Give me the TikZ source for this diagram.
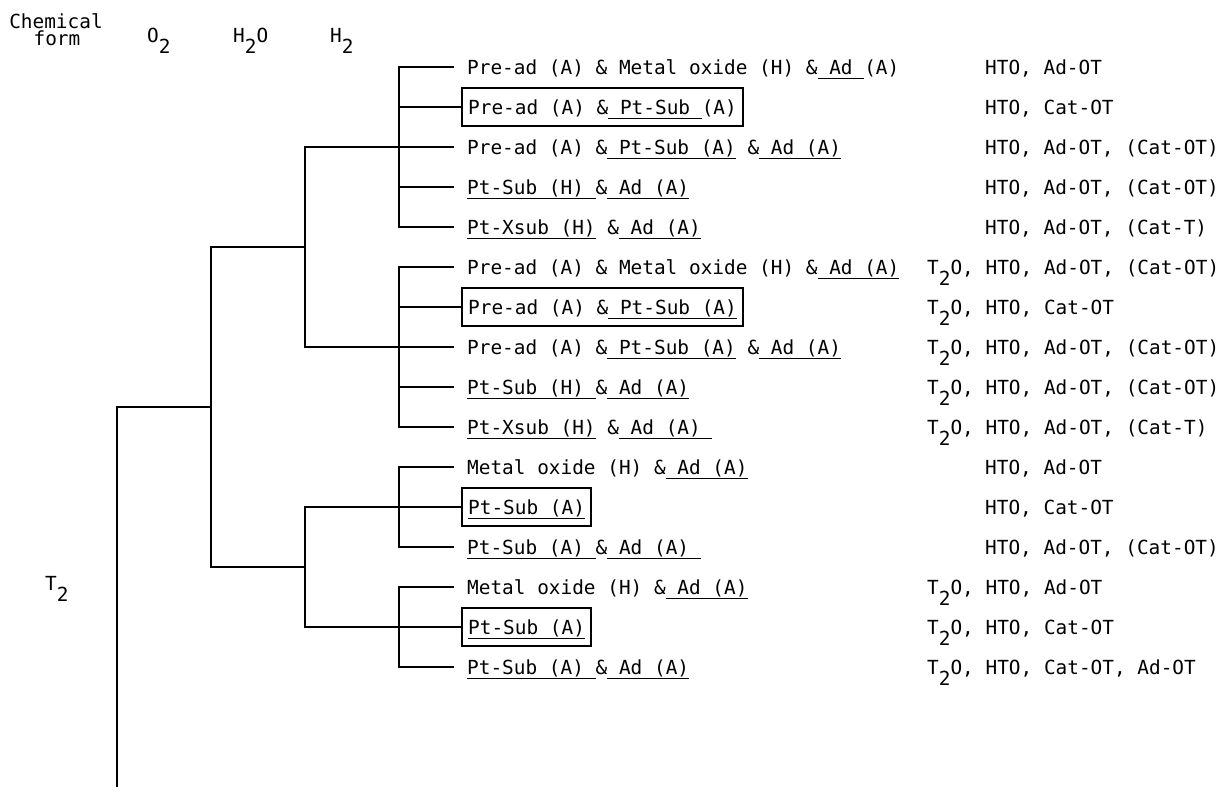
\documentclass[tikz,border=0pt]{standalone}
\usepackage{fontspec}
\newfontfamily\plotfont{DejaVu Sans Mono}
\usetikzlibrary{calc}

\newsavebox\ulbox
\newcommand{\undl}[1]{\sbox\ulbox{#1}\rlap{\rule[-5pt]{\wd\ulbox}{1.4pt}}\usebox\ulbox}
\newcommand{\low}[1]{\raisebox{-0.6em}{#1}}

\tikzset{
  branch/.style={line width=1.6pt, line cap=rect},
  form/.style={anchor=west, inner xsep=6pt, inner ysep=9pt, text height=17pt, text depth=3pt},
  boxed/.style={form, draw, line width=2.4pt},
  prod/.style={anchor=west, inner sep=0pt, text height=17pt, text depth=3pt},
  chem/.style={anchor=base west, inner sep=0pt},
}

\begin{document}
\begin{tikzpicture}[x=1pt, y=-1pt, font={\plotfont\fontsize{19.4}{16}\selectfont}]
            \useasboundingbox (0,0) rectangle (1221,787);

            % Header
            \node[anchor=base, inner sep=0pt] (head) at (56,28) {Chemical};
            \node[anchor=base, inner sep=0pt] (head2) at (57,45) {form};
            \node[chem] (o2) at (147,42) {O\low{2}};
            \node[chem] (h2o) at (233,42) {H\low{2}O};
            \node[chem] (h2) at (330,42) {H\low{2}};
            \node[chem] (t2) at (45,590) {T\low{2}};

            % Forms after H2
            \node[form] (f1) at (461,67) {Pre-ad (A) \& Metal oxide (H) \&\undl{ Ad }(A)};
            \node[boxed] (f2) at (461,107) {Pre-ad (A) \&\undl{ Pt-Sub }(A)};
            \node[form] (f3) at (461,147) {Pre-ad (A) \&\undl{ Pt-Sub (A)} \&\undl{ Ad (A)}};
            \node[form] (f4) at (461,187) {\undl{Pt-Sub (H) }\&\undl{ Ad (A)}};
            \node[form] (f5) at (461,227) {\undl{Pt-Xsub (H)} \&\undl{ Ad (A)}};
            \node[form] (f6) at (461,267) {Pre-ad (A) \& Metal oxide (H) \&\undl{ Ad (A)}};
            \node[boxed] (f7) at (461,307) {Pre-ad (A) \&\undl{ Pt-Sub (A)}};
            \node[form] (f8) at (461,347) {Pre-ad (A) \&\undl{ Pt-Sub (A)} \&\undl{ Ad (A)}};
            \node[form] (f9) at (461,387) {\undl{Pt-Sub (H) }\&\undl{ Ad (A)}};
            \node[form] (f10) at (461,427) {\undl{Pt-Xsub (H)} \&\undl{ Ad (A) }};
            \node[form] (f11) at (461,467) {Metal oxide (H) \&\undl{ Ad (A)}};
            \node[boxed] (f12) at (461,507) {\undl{Pt-Sub (A)}};
            \node[form] (f13) at (461,547) {\undl{Pt-Sub (A) }\&\undl{ Ad (A) }};
            \node[form] (f14) at (461,587) {Metal oxide (H) \&\undl{ Ad (A)}};
            \node[boxed] (f15) at (461,627) {\undl{Pt-Sub (A)}};
            \node[form] (f16) at (461,667) {\undl{Pt-Sub (A) }\&\undl{ Ad (A)}};

            % Products
            \foreach \i/\x/\t in {1/985/{HTO, Ad-OT}, 2/985/{HTO, Cat-OT},
                3/985/{HTO, Ad-OT, (Cat-OT)}, 4/985/{HTO, Ad-OT, (Cat-OT)},
                5/985/{HTO, Ad-OT, (Cat-T)}, 6/927/{T\low{2}O, HTO, Ad-OT, (Cat-OT)},
                7/927/{T\low{2}O, HTO, Cat-OT}, 8/927/{T\low{2}O, HTO, Ad-OT, (Cat-OT)},
                9/927/{T\low{2}O, HTO, Ad-OT, (Cat-OT)}, 10/927/{T\low{2}O, HTO, Ad-OT, (Cat-T)},
                11/985/{HTO, Ad-OT}, 12/985/{HTO, Cat-OT},
                13/985/{HTO, Ad-OT, (Cat-OT)}, 14/927/{T\low{2}O, HTO, Ad-OT},
                15/927/{T\low{2}O, HTO, Cat-OT}, 16/927/{T\low{2}O, HTO, Cat-OT, Ad-OT}}
              \node[prod] (p\i) at (\x, {27+40*\i}) {\t};

            % Branch levels
            \coordinate (bx) at (399,0);
            \coordinate (hx) at (305,0);
            \coordinate (ox) at (211,0);
            \coordinate (rx) at (117,0);
            \coordinate (bot) at (117,787);

            % H2 stubs and brackets
            \foreach \i in {1,3,4,5,6,8,9,10,11,13,14,16}
              \draw[branch, shorten >=8pt] (f\i.west -| bx) -- (f\i.west);
            \foreach \i in {2,7,12,15}
              \draw[branch] (f\i.west -| bx) -- (f\i.west);
            \foreach \a/\b in {1/5, 6/10, 11/13, 14/16}
              \draw[branch] (f\a.west -| bx) -- (f\b.west -| bx);

            % H2O level
            \draw[branch] (f3.west -| bx) -- (f3.west -| hx) -- (f8.west -| hx) -- (f8.west -| bx);
            \draw[branch] (f12.west -| bx) -- (f12.west -| hx) -- (f15.west -| hx) -- (f15.west -| bx);

            % O2 level
            \coordinate (ja) at ($(f3.west -| hx)!0.5!(f8.west -| hx)$);
            \coordinate (jb) at ($(f12.west -| hx)!0.5!(f15.west -| hx)$);
            \draw[branch] (ja) -- (ja -| ox) -- (jb -| ox) -- (jb);

            % T2 root
            \coordinate (jr) at ($(ja -| ox)!0.5!(jb -| ox)$);
            \draw[branch] (jr) -- (jr -| rx) -- (bot);
        \end{tikzpicture}
\end{document}
